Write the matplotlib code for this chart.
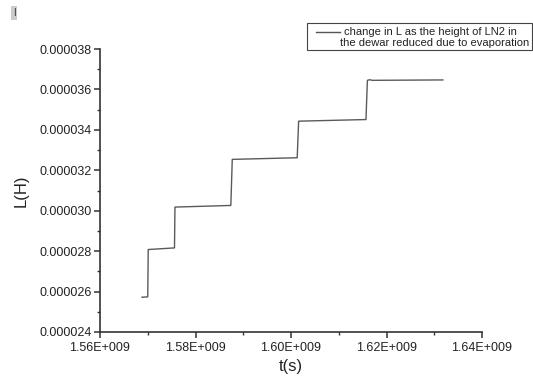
import numpy as np
import matplotlib.pyplot as plt
from matplotlib import ticker as tick
from matplotlib.lines import Line2D
from matplotlib.patches import Rectangle

plt.rcParams['font.family'] = ['Liberation Sans', 'DejaVu Sans']

# time (s) and inductance (H)
t = [1.5688e9, 1.5700e9, 1.5701e9, 1.5756e9, 1.5757e9, 1.5874e9, 1.5877e9,
     1.6013e9, 1.6016e9, 1.6157e9, 1.6160e9, 1.6165e9, 1.6170e9, 1.6318e9]
L = [2.572e-5, 2.574e-5, 2.808e-5, 2.816e-5, 3.018e-5, 3.026e-5, 3.254e-5,
     3.262e-5, 3.443e-5, 3.451e-5, 3.645e-5, 3.648e-5, 3.645e-5, 3.647e-5]

xticks = [1.56e9, 1.58e9, 1.60e9, 1.62e9, 1.64e9]
yticks = [0.000024, 0.000026, 0.000028, 0.000030, 0.000032, 0.000034, 0.000036, 0.000038]
legend_lines = ["change in L as the height of LN2 in",
                "the dewar reduced due to evaporation"]

W, H = 533, 377
fig = plt.figure(figsize=(W/100, H/100), dpi=100)
ax = fig.add_axes([100/W, 1-332/H, 382/W, 283/H])

ax.plot(t, L, color='#5a5a5a', lw=1.0)

ax.set_xlim(1.56e9, 1.64e9)
ax.set_ylim(0.000024, 0.000038)
ax.set_xticks(xticks)
ax.set_yticks(yticks)
ax.xaxis.set_minor_locator(tick.AutoMinorLocator(2))
ax.yaxis.set_minor_locator(tick.AutoMinorLocator(2))
ax.xaxis.set_major_formatter(tick.FuncFormatter(lambda v, p: "%.2fE+009" % (v/1e9)))
ax.yaxis.set_major_formatter(tick.FormatStrFormatter('%.6f'))

for s in ['top', 'right']:
	ax.spines[s].set_visible(False)
for s in ['left', 'bottom']:
	ax.spines[s].set_color('#333333')
	ax.spines[s].set_linewidth(1.2)

ax.tick_params(which='major', direction='out', length=4, width=1.1, color='#333333',
               labelsize=9, labelcolor='#222222', pad=2)
ax.tick_params(axis='x', which='major', pad=3.5)
ax.tick_params(which='minor', direction='out', length=2.5, width=1.0, color='#333333')

ax.set_xlabel('t(s)', fontsize=12, color='#222222', labelpad=3)
ax.set_ylabel('L(H)', fontsize=12, color='#222222', labelpad=8)

# legend box drawn in figure pixels
fig.patches.append(Rectangle((307/W, 1-50/H), 225/W, 27/H, transform=fig.transFigure,
                             fill=False, edgecolor='#444444', lw=0.8))
fig.lines.append(Line2D([316/W, 340/W], [1-32/H, 1-32/H], transform=fig.transFigure,
                        color='#555555', lw=1.0))
fig.text(344/W, 1-32/H, legend_lines[0], fontsize=8, va='center', color='#222222')
fig.text(340/W, 1-43/H, legend_lines[1], fontsize=8, va='center', color='#222222')

# little page marker in the corner
fig.text(14/W, 1-13/H, "I", fontsize=7, va='center', ha='center', color='#333333',
         bbox=dict(boxstyle='square,pad=0.2', fc='#cccccc', ec='none'))

plt.savefig('out.png', dpi=100)
